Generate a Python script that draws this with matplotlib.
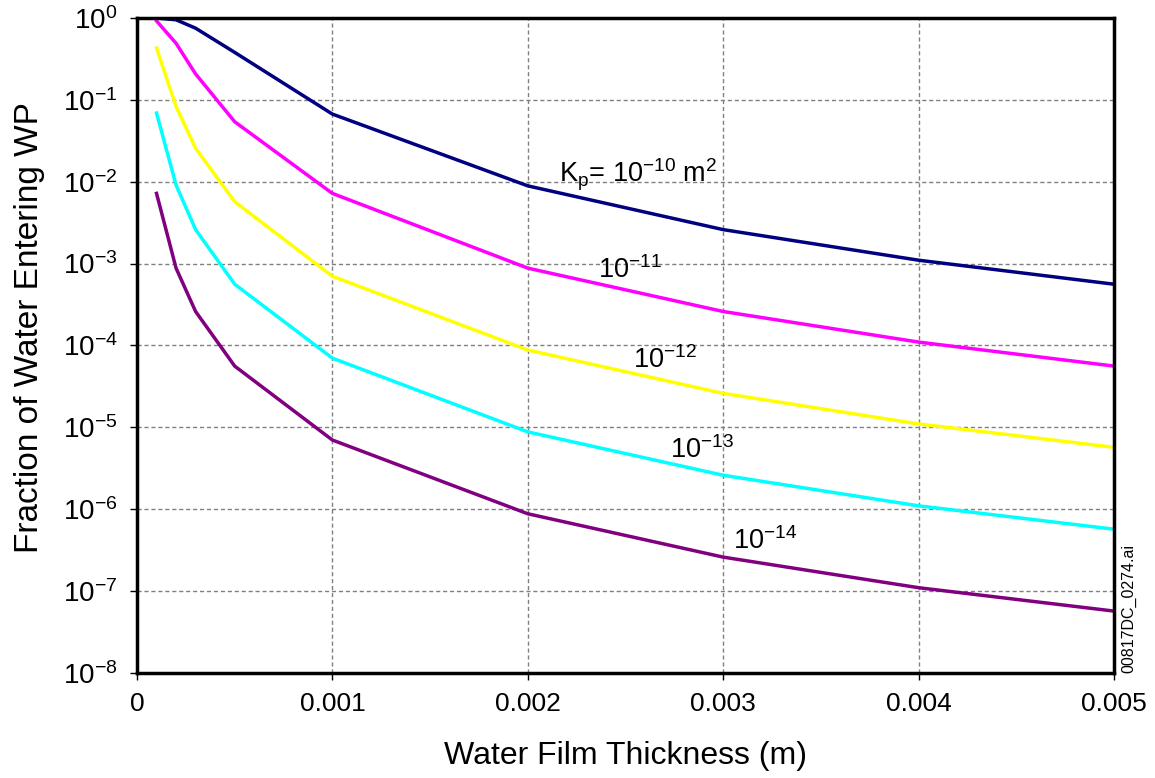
import numpy as np
import matplotlib
matplotlib.use('Agg')
import matplotlib.pyplot as plt

plt.rcParams['font.family'] = ['Liberation Sans', 'DejaVu Sans']
plt.rcParams['mathtext.fontset'] = 'custom'
plt.rcParams['mathtext.rm'] = 'Liberation Sans'
plt.rcParams['mathtext.it'] = 'Liberation Sans:italic'

# water film thickness (m)
thickness = [0.0001, 0.0002, 0.0003, 0.0005, 0.001, 0.002, 0.003, 0.004, 0.005]

# fraction of water entering WP for each permeability
kp_1e10 = [1.0, 0.95, 0.75, 0.38, 0.067, 0.0089, 0.0026, 0.0011, 0.00056]
kp_1e11 = [0.92, 0.49, 0.207, 0.054, 0.0072, 0.00088, 0.00026, 0.00011, 5.6e-5]
kp_1e12 = [0.43, 0.083, 0.0256, 0.0057, 0.0007, 8.8e-5, 2.6e-5, 1.1e-5, 5.7e-6]
kp_1e13 = [0.069, 0.0091, 0.0026, 0.00056, 7.0e-5, 8.8e-6, 2.6e-6, 1.1e-6, 5.7e-7]
kp_1e14 = [0.0072, 0.00088, 0.00026, 5.6e-5, 7.0e-6, 8.8e-7, 2.6e-7, 1.1e-7, 5.7e-8]

series = [kp_1e10, kp_1e11, kp_1e12, kp_1e13, kp_1e14]
colors = ['#000080', '#ff00ff', '#ffff00', '#00ffff', '#800080']
labels = [r'K$_\mathrm{p}$= 10$^{-10}$ m$^2$', r'10$^{-11}$', r'10$^{-12}$',
          r'10$^{-13}$', r'10$^{-14}$']
label_pos = [(0.00216, 9.9e-3), (0.00236, 6.7e-4), (0.00254, 5.3e-5),
             (0.00273, 4.25e-6), (0.00305, 3.3e-7)]

xticks = [0, 0.001, 0.002, 0.003, 0.004, 0.005]
xticklabels = ['0', '0.001', '0.002', '0.003', '0.004', '0.005']
yexp = list(range(0, -9, -1))

fig = plt.figure(figsize=(11.55, 7.78), dpi=100)
ax = fig.add_axes([0.1186, 0.135, 0.8459, 0.8419])

for vals, c in zip(series, colors):
    ax.plot(thickness, vals, color=c, lw=2.5, solid_joinstyle='round')

for (lx, ly), lab in zip(label_pos, labels):
    ax.text(lx, ly, lab, fontsize=19.5, ha='left', va='baseline')

ax.set_yscale('log')
ax.set_xlim(0, 0.005)
ax.set_ylim(1e-8, 1)
ax.set_xticks(xticks, xticklabels)
ax.set_yticks([10.0**e for e in yexp], [r'10$^{%s}$' % (str(e).replace('-', '−')) for e in yexp])
ax.minorticks_off()
ax.tick_params(axis='both', direction='out', length=5, width=1, pad=9)
ax.tick_params(axis='y', labelsize=20)
ax.tick_params(axis='x', labelsize=19)
ax.grid(True, which='major', color='gray', ls=(0, (3, 2)), lw=1)
for s in ax.spines.values():
    s.set_linewidth(2.5)

ax.set_xlabel('Water Film Thickness (m)', fontsize=23, labelpad=18)
ax.set_ylabel('Fraction of Water Entering WP', fontsize=24)
ax.yaxis.set_label_coords(-0.094, 0.528)

fig.text(0.9775, 0.135, '00817DC_0274.ai', rotation=90, fontsize=11.5,
         ha='center', va='bottom')

fig.savefig('out.png', dpi=100)
